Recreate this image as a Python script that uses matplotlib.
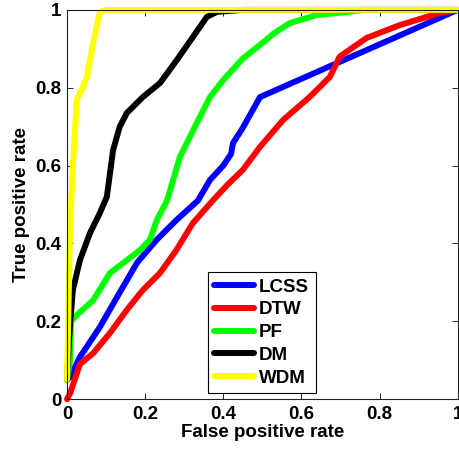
#!/usr/bin/env python
"""ROC curves for the five trajectory similarity measures."""

import matplotlib

matplotlib.use("Agg")
import matplotlib.pyplot as plt

# series (false positive rate, true positive rate)
lcss_fpr = [0.0, 0.008, 0.033, 0.084, 0.128, 0.179, 0.23, 0.28, 0.335, 0.366,
            0.40, 0.42, 0.425, 0.45, 0.494, 1.0]
lcss_tpr = [0.05, 0.057, 0.108, 0.185, 0.262, 0.35, 0.41, 0.46, 0.51, 0.563,
            0.60, 0.63, 0.658, 0.697, 0.776, 1.0]

dtw_fpr = [0.0, 0.008, 0.033, 0.067, 0.11, 0.153, 0.194, 0.238, 0.28, 0.322,
           0.373, 0.41, 0.45, 0.494, 0.553, 0.621, 0.673, 0.698, 0.767, 0.852,
           0.954, 1.0]
dtw_tpr = [0.0, 0.015, 0.09, 0.118, 0.17, 0.229, 0.28, 0.324, 0.383, 0.452,
           0.51, 0.55, 0.589, 0.648, 0.717, 0.776, 0.828, 0.88, 0.928, 0.961,
           0.992, 1.0]

pf_fpr = [0.0, 0.008, 0.01, 0.025, 0.067, 0.11, 0.153, 0.187, 0.212, 0.23,
          0.256, 0.289, 0.332, 0.366, 0.40, 0.45, 0.494, 0.53, 0.57, 0.64,
          0.72, 0.76, 1.0]
pf_tpr = [0.05, 0.1, 0.2, 0.216, 0.254, 0.324, 0.357, 0.383, 0.409, 0.46,
          0.51, 0.622, 0.709, 0.776, 0.82, 0.875, 0.91, 0.94, 0.966, 0.987,
          0.995, 1.0, 1.0]

dm_fpr = [0.0, 0.005, 0.01, 0.015, 0.033, 0.059, 0.084, 0.102, 0.118, 0.135,
          0.153, 0.194, 0.238, 0.281, 0.322, 0.358, 0.384, 0.45, 1.0]
dm_tpr = [0.05, 0.15, 0.22, 0.28, 0.357, 0.427, 0.478, 0.52, 0.64, 0.70,
          0.735, 0.776, 0.812, 0.871, 0.93, 0.982, 0.995, 1.0, 1.0]

wdm_fpr = [0.0, 0.005, 0.008, 0.015, 0.025, 0.04, 0.051, 0.067, 0.084, 0.1, 1.0]
wdm_tpr = [0.05, 0.3, 0.45, 0.6, 0.769, 0.8, 0.828, 0.915, 0.995, 1.0, 1.0]

SERIES = [
    ("LCSS", lcss_fpr, lcss_tpr, "#0000ff"),
    ("DTW", dtw_fpr, dtw_tpr, "#ff0000"),
    ("PF", pf_fpr, pf_tpr, "#00ff00"),
    ("DM", dm_fpr, dm_tpr, "#000000"),
    ("WDM", wdm_fpr, wdm_tpr, "#ffff00"),
]
TICK_LABELS = ["0", "0.2", "0.4", "0.6", "0.8", "1"]

plt.rcParams["font.family"] = ["Liberation Sans", "DejaVu Sans"]
plt.rcParams["font.weight"] = "bold"

fig = plt.figure(figsize=(4.59, 4.5), dpi=100)
ax = fig.add_axes([0.146, 0.113, 0.851, 0.865])

for name, fpr, tpr, color in SERIES:
    ax.plot(fpr, tpr, color=color, linewidth=4.3, label=name,
            solid_joinstyle="round", solid_capstyle="round", clip_on=False)

ax.set_xlim(0, 1)
ax.set_ylim(0, 1)
ticks = [0, 0.2, 0.4, 0.6, 0.8, 1]
ax.set_xticks(ticks)
ax.set_yticks(ticks)
ax.set_xticklabels(TICK_LABELS)
ax.set_yticklabels(TICK_LABELS)
ax.tick_params(direction="in", length=4, width=0.6, top=True, right=True,
               labelsize=13.5)
ax.tick_params(axis="x", pad=5)
ax.tick_params(axis="y", pad=4)
for spine in ax.spines.values():
    spine.set_linewidth(0.8)
    spine.set_color("#222222")

ax.set_xlabel("False positive rate", fontsize=13.5, fontweight="bold", labelpad=1)
ax.set_ylabel("True positive rate", fontsize=13.5, fontweight="bold", labelpad=4)

leg = ax.legend(loc="lower left", bbox_to_anchor=(0.36, 0.015), borderaxespad=0,
                fancybox=False, edgecolor="black", framealpha=1,
                prop={"size": 13.5, "weight": "bold"}, handlelength=2.1,
                handletextpad=0.3, labelspacing=0.3, borderpad=0.35)
leg.get_frame().set_linewidth(0.8)

fig.savefig("out.png", dpi=100)
plt.close(fig)
